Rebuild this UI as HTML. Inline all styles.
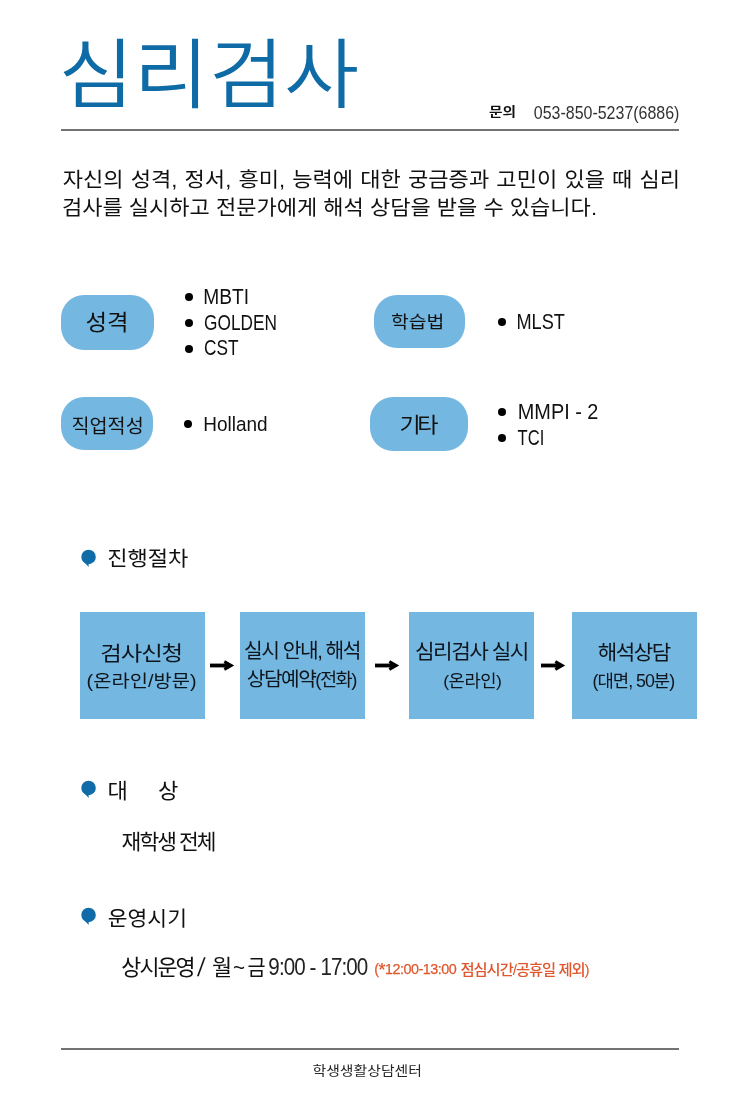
<!DOCTYPE html>
<html lang="ko">
<head>
<meta charset="utf-8">
<title>심리검사</title>
<style>
*{margin:0;padding:0;box-sizing:border-box}
html,body{width:730px;height:1100px;background:#fff;overflow:hidden}
body{position:relative;font-family:"Liberation Sans","Noto Sans CJK KR",sans-serif;color:#111}
#pg{position:absolute;left:0;top:0;width:730px;height:1100px;will-change:transform;overflow:hidden}
.t{position:absolute;white-space:nowrap;line-height:1;transform-origin:0 0;font-weight:400;letter-spacing:0;word-spacing:0;color:#111}
ul,ol,li{list-style:none}
h1,h2,b{font-weight:400}
.hr{position:absolute;left:61px;width:618px;height:2px;background:#737373}
.pill{position:absolute;background:#74b7e1}
.box{position:absolute;top:612px;width:125px;height:107px;background:#74b7e1}
.dot{position:absolute;width:8px;height:8px;border-radius:50%;background:#000}
svg{position:absolute;overflow:visible}
</style>
</head>
<body>
<div id="pg">

<header>
<h1 class="t" style="left:58px;top:38px;font-size:81px;font-weight:350;color:#0f6ba6;transform:translateX(0.75px) scale(1.0078,0.9386);">심리검사</h1>
<p>
<b class="t" style="left:488px;top:105px;font-size:14px;font-weight:700;transform:translateX(0.93px) scale(1.051,0.8969);">문의</b>
<span class="t" style="left:533px;top:105px;font-size:17px;color:#333;transform:translateX(0.84px) scale(0.9391,1.0325);">053-850-5237(6886)</span>
</p>
<div class="hr" style="top:129px"></div>
</header>
<main>
<p>
<span class="t" style="left:62px;top:170px;font-size:22px;word-spacing:1.05px;transform:translateX(0.7px) scale(1.002,0.945);">자신의 성격, 정서, 흥미, 능력에 대한 궁금증과 고민이 있을 때 심리</span>
<span class="t" style="left:61px;top:198px;font-size:22px;transform:translateX(0.96px) scale(1.0007,0.945);">검사를 실시하고 전문가에게 해석 상담을 받을 수 있습니다.</span>
</p>
<section>
<div class="pill" style="left:61px;top:295px;width:93px;height:55.4px;border-radius:23px"></div>
<h3 class="t" style="left:85px;top:313px;font-size:22px;transform:translateX(0.52px) scale(1.0644,0.9632);">성격</h3>
<ul>
<li><i class="dot" style="left:185.2px;top:292.8px"></i>
<span class="t" style="left:203px;top:287px;font-size:22px;transform:translateX(0.22px) scale(0.871,0.97);">MBTI</span>
</li>
<li><i class="dot" style="left:185.2px;top:319.0px"></i>
<span class="t" style="left:204px;top:313px;font-size:22px;transform:translateX(0.12px) scale(0.7848,0.97);">GOLDEN</span>
</li>
<li><i class="dot" style="left:185.2px;top:344.6px"></i>
<span class="t" style="left:204px;top:338px;font-size:22px;transform:translateX(0.1px) scale(0.7843,0.97);">CST</span>
</li>
</ul>
<div class="pill" style="left:373.6px;top:295px;width:91.3px;height:53px;border-radius:23px"></div>
<h3 class="t" style="left:391px;top:313px;font-size:19px;transform:scale(1.0179,0.9074);">학습법</h3>
<ul>
<li><i class="dot" style="left:498.1px;top:317.9px"></i>
<span class="t" style="left:516px;top:312px;font-size:22px;transform:translateX(0.46px) scale(0.8264,0.97);">MLST</span>
</li>
</ul>
<div class="pill" style="left:61px;top:397px;width:92.2px;height:53px;border-radius:23px"></div>
<h3 class="t" style="left:71px;top:417px;font-size:19px;transform:translateX(0.47px) scale(1.0329,0.9922);">직업적성</h3>
<ul>
<li><i class="dot" style="left:184.3px;top:420.1px"></i>
<span class="t" style="left:203px;top:414px;font-size:22px;transform:translateX(0.27px) scale(0.8628,0.96);">Holland</span>
</li>
</ul>
<div class="pill" style="left:370px;top:397px;width:98.2px;height:54px;border-radius:23px"></div>
<h3 class="t" style="left:399px;top:415px;font-size:22px;letter-spacing:-3.4px;transform:translateX(0.49px) scale(1.0503,0.9502);">기타</h3>
<ul>
<li><i class="dot" style="left:498.1px;top:408.0px"></i>
<span class="t" style="left:517px;top:402px;font-size:22px;transform:translateX(0.73px) scale(0.9044,0.97);">MMPI - 2</span>
</li>
<li><i class="dot" style="left:498.1px;top:433.8px"></i>
<span class="t" style="left:517px;top:428px;font-size:22px;transform:translateX(0.61px) scale(0.7523,0.97);">TCI</span>
</li>
</ul>
</section>
<section>
<svg aria-hidden="true" style="left:80px;top:548px" width="18" height="20" viewBox="80 548 18 20"><circle cx="88.55" cy="556.9" r="7.25" fill="#0f6ca8"/><path d="M83 561 L88.8 567 L88.4 563 Z" fill="#0f6ca8"/></svg>
<h2 class="t" style="left:107px;top:549px;font-size:22px;transform:translateX(0.16px) scale(1.0038,0.945);">진행절차</h2>
<ol>
<li><div class="box" style="left:80px"></div>
<span class="t" style="left:100px;top:643px;font-size:21px;letter-spacing:-1px;color:#0e151c;transform:translateX(0.22px) scale(1.1166,0.99);">검사신청</span>
<span class="t" style="left:86px;top:672px;font-size:18px;color:#0e151c;transform:translateX(0.59px) scale(1.1021,0.975);">(온라인/방문)</span>
</li>
<li><svg aria-hidden="true" style="left:209px;top:658px" width="27" height="15" viewBox="0 0 27 15"><path d="M1 5.6 H20 V9.4 H1 Z" fill="#000"/><path d="M15.3 3.6 L22.2 7.5 L15.3 11.4" fill="none" stroke="#000" stroke-width="3" stroke-linejoin="miter" stroke-linecap="butt"/></svg></li>
<li><div class="box" style="left:240px"></div>
<span class="t" style="left:244px;top:641px;font-size:21px;letter-spacing:-1.5px;color:#0e151c;transform:translateX(0.12px) scale(0.9665,0.97);">실시 안내, 해석</span>
<span class="t" style="left:246px;top:669px;font-size:20px;letter-spacing:-1.5px;color:#0e151c;transform:translateX(0.84px) scale(1.0124,0.99);">상담예약<span style="font-size:.92em">(전화)</span></span>
</li>
<li><svg aria-hidden="true" style="left:373.9px;top:658px" width="27" height="15" viewBox="0 0 27 15"><path d="M1 5.6 H20 V9.4 H1 Z" fill="#000"/><path d="M15.3 3.6 L22.2 7.5 L15.3 11.4" fill="none" stroke="#000" stroke-width="3" stroke-linejoin="miter" stroke-linecap="butt"/></svg></li>
<li><div class="box" style="left:409px"></div>
<span class="t" style="left:415px;top:641px;font-size:21px;letter-spacing:-1.5px;color:#0e151c;transform:translateX(0.04px) scale(1.0147,0.99);">심리검사 실시</span>
<span class="t" style="left:443px;top:673px;font-size:18px;letter-spacing:-0.5px;color:#0e151c;transform:translateX(0.2px) scale(0.9844,0.95);">(온라인)</span>
</li>
<li><svg aria-hidden="true" style="left:540px;top:658px" width="27" height="15" viewBox="0 0 27 15"><path d="M1 5.6 H20 V9.4 H1 Z" fill="#000"/><path d="M15.3 3.6 L22.2 7.5 L15.3 11.4" fill="none" stroke="#000" stroke-width="3" stroke-linejoin="miter" stroke-linecap="butt"/></svg></li>
<li><div class="box" style="left:572px"></div>
<span class="t" style="left:597px;top:642px;font-size:21px;letter-spacing:-1.5px;color:#0e151c;transform:translateX(0.7px) scale(1.0089,0.99);">해석상담</span>
<span class="t" style="left:592px;top:672px;font-size:18px;letter-spacing:-1px;color:#0e151c;transform:translateX(0.53px) scale(0.987,0.97);">(대면, 50분)</span>
</li>
</ol>
</section>
<section>
<svg aria-hidden="true" style="left:80px;top:778.8px" width="18" height="20" viewBox="80 548 18 20"><circle cx="88.55" cy="556.9" r="7.25" fill="#0f6ca8"/><path d="M83 561 L88.8 567 L88.4 563 Z" fill="#0f6ca8"/></svg>
<h2 class="t" style="left:107px;top:781px;font-size:22px;transform:translateX(0.45px) scale(1.008,0.955);">대<span style="display:inline-block;width:30px"></span>상</h2>
<p class="t" style="left:121px;top:832px;font-size:22px;letter-spacing:-2px;transform:translateX(0.6px) scale(0.9766,0.955);">재학생 전체</p>
</section>
<section>
<svg aria-hidden="true" style="left:80px;top:905.7px" width="18" height="20" viewBox="80 548 18 20"><circle cx="88.55" cy="556.9" r="7.25" fill="#0f6ca8"/><path d="M83 561 L88.8 567 L88.4 563 Z" fill="#0f6ca8"/></svg>
<h2 class="t" style="left:107px;top:909px;font-size:22px;transform:translateX(0.76px) scale(0.9778,0.945);">운영시기</h2>
<p>
<span class="t" style="left:121px;top:957px;font-size:22px;letter-spacing:-2px;transform:translateX(0.32px) scale(0.991,0.99);">상시운영</span>
<span class="t" style="left:198px;top:957px;font-size:22px;transform-origin:50% 50%;transform:translateX(0.02px) scale(1.0,1.1736) skewX(-9deg);">/</span>
<span class="t" style="left:211px;top:957px;font-size:22px;transform:translateX(0.93px) scale(0.9965,0.99);">월</span>
<span class="t" style="left:233px;top:957px;font-size:22px;transform:scale(0.9352,0.99);">~</span>
<span class="t" style="left:247px;top:957px;font-size:22px;transform:translateX(0.46px) scale(0.8942,0.99);">금</span>
<span class="t" style="left:268px;top:956px;font-size:23px;letter-spacing:-1px;color:#222;transform:translateX(0.35px) scale(0.8941,1.0);">9:00 - 17:00</span>
<span class="t" style="left:374px;top:961px;font-size:15px;letter-spacing:-0.5px;color:#e0562d;-webkit-text-stroke:.25px #e0562d;transform:translateX(0.15px) scale(0.9573,1.0);">(<span style="font-size:1.25em;line-height:0;position:relative;top:1.5px">*</span>12:00-13:00</span>
<span class="t" style="left:460px;top:963px;font-size:14.5px;font-weight:500;letter-spacing:-1px;color:#e0562d;transform:translateX(0.4px) scale(1.0604,0.9881);">점심시간/공휴일 제외)</span>
</p>
</section>
</main>
<div class="hr" style="top:1048px"></div>
<footer class="t" style="left:312px;top:1064px;font-size:14.5px;color:#262626;transform:translateX(0.5px) scale(1.0254,0.9005);">학생생활상담센터</footer>
</div>
</body>
</html>
